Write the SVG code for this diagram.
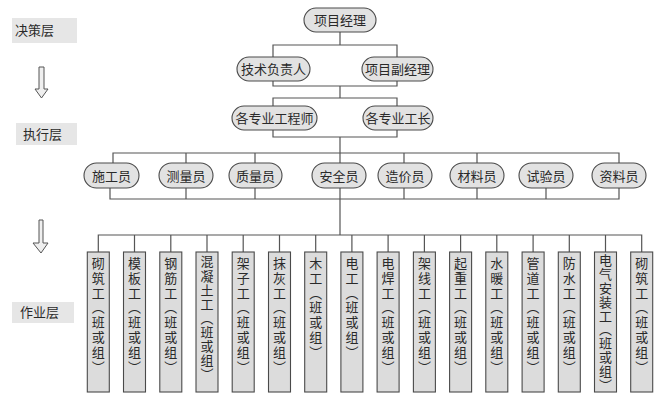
<svg xmlns="http://www.w3.org/2000/svg" width="672" height="409" viewBox="0 0 672 409">
<style>
text{font-family:"Noto Sans CJK SC","Noto Sans",sans-serif;font-size:13px;fill:#2a2a2a}
.pill{fill:#e2e2e2;stroke:#4a4a4a;stroke-width:1.1}
.lvl{fill:#e6e6e6}
.wk{fill:#dcdcdc;stroke:#4a4a4a;stroke-width:1.1}
.c{text-anchor:middle}
.v{writing-mode:vertical-rl;letter-spacing:1.8px}
.vs{writing-mode:vertical-rl;letter-spacing:1.1px}
#connectors path{fill:none;stroke:#555;stroke-width:1.2}
.arr{fill:#efefef;stroke:#555;stroke-width:1}
</style>
<rect width="672" height="409" fill="#fff"/>
<g id="layers">
<g id="layer1"><rect class="lvl" x="12" y="18" width="65" height="25"/><text x="15" y="35">决策层</text></g>
<g id="layer2"><rect class="lvl" x="16" y="123" width="61" height="22"/><text x="23" y="139">执行层</text></g>
<g id="layer3"><rect class="lvl" x="12" y="302" width="62" height="21"/><text x="20" y="317">作业层</text></g>
<path class="arr" d="M39,67 H44 V89 H48 L41.5,98 L35,89 H39 Z"/>
<path class="arr" d="M39,220 H43 V243 H48 L41,253 L33,243 H39 Z"/>
</g>
<g id="connectors">
<path d="M340,32 V45 M273,57 V45 H397 V57"/>
<path d="M273,81 V86 H397 V81 M340,86 V98 M273,106 V98 H397 V106"/>
<path d="M273,130 V137 H397 V130 M340,137 V163"/>
<path d="M113,163 V153 H619 V163 M186,153 V163 M255,153 V163 M404,153 V163 M477,153 V163"/>
<path d="M110,188 V199 H619 V188 M186,188 V199 M255,188 V199 M404,188 V199 M477,188 V199 M546,188 V199 M340,188 V235"/>
<path d="M98.3,252 V235 H641.7 V252 M134.5,235 V252 M170.8,235 V252 M207,235 V252 M243.2,235 V252 M279.5,235 V252 M315.7,235 V252 M351.9,235 V252 M388.1,235 V252 M424.4,235 V252 M460.6,235 V252 M496.8,235 V252 M533.1,235 V252 M569.3,235 V252 M605.5,235 V252"/>
</g>
<g id="n-pm"><rect class="pill" x="304" y="8" width="72" height="24" rx="12"/><text class="c" x="340" y="25">项目经理</text></g>
<g id="n-tech"><rect class="pill" x="237" y="57" width="73" height="24" rx="12"/><text class="c" x="273.5" y="74">技术负责人</text></g>
<g id="n-vpm"><rect class="pill" x="362" y="57" width="71" height="24" rx="12"/><text class="c" x="397.5" y="74">项目副经理</text></g>
<g id="n-eng"><rect class="pill" x="232" y="106" width="85" height="24" rx="12"/><text class="c" x="274.5" y="123">各专业工程师</text></g>
<g id="n-fore"><rect class="pill" x="363" y="106" width="70" height="24" rx="12"/><text class="c" x="398" y="123">各专业工长</text></g>
<g id="s1"><rect class="pill" x="84" y="163" width="55" height="25" rx="12.5"/><text class="c" x="111.5" y="180.5">施工员</text></g>
<g id="s2"><rect class="pill" x="159" y="163" width="54" height="25" rx="12.5"/><text class="c" x="186" y="180.5">测量员</text></g>
<g id="s3"><rect class="pill" x="229" y="163" width="53" height="25" rx="12.5"/><text class="c" x="255.5" y="180.5">质量员</text></g>
<g id="s4"><rect class="pill" x="312" y="163" width="54" height="25" rx="12.5"/><text class="c" x="339" y="180.5">安全员</text></g>
<g id="s5"><rect class="pill" x="378" y="163" width="54" height="25" rx="12.5"/><text class="c" x="405" y="180.5">造价员</text></g>
<g id="s6"><rect class="pill" x="450" y="163" width="54" height="25" rx="12.5"/><text class="c" x="477" y="180.5">材料员</text></g>
<g id="s7"><rect class="pill" x="519" y="163" width="54" height="25" rx="12.5"/><text class="c" x="546" y="180.5">试验员</text></g>
<g id="s8"><rect class="pill" x="592" y="163" width="54" height="25" rx="12.5"/><text class="c" x="619" y="180.5">资料员</text></g>
<g id="w1"><rect class="wk" x="87.3" y="252" width="22" height="140"/><text class="v" x="98.3" y="256.5">砌筑工（班或组）</text></g>
<g id="w2"><rect class="wk" x="123.5" y="252" width="22" height="140"/><text class="v" x="134.5" y="256.5">模板工（班或组）</text></g>
<g id="w3"><rect class="wk" x="159.8" y="252" width="22" height="140"/><text class="v" x="170.8" y="256.5">钢筋工（班或组）</text></g>
<g id="w4"><rect class="wk" x="196" y="252" width="22" height="140"/><text class="vs" x="207" y="255">混凝土工（班或组）</text></g>
<g id="w5"><rect class="wk" x="232.2" y="252" width="22" height="140"/><text class="v" x="243.2" y="256.5">架子工（班或组）</text></g>
<g id="w6"><rect class="wk" x="268.5" y="252" width="22" height="140"/><text class="v" x="279.5" y="256.5">抹灰工（班或组）</text></g>
<g id="w7"><rect class="wk" x="304.7" y="252" width="22" height="140"/><text class="v" x="315.7" y="256.5">木工（班或组）</text></g>
<g id="w8"><rect class="wk" x="340.9" y="252" width="22" height="140"/><text class="v" x="351.9" y="256.5">电工（班或组）</text></g>
<g id="w9"><rect class="wk" x="377.1" y="252" width="22" height="140"/><text class="v" x="388.1" y="256.5">电焊工（班或组）</text></g>
<g id="w10"><rect class="wk" x="413.4" y="252" width="22" height="140"/><text class="v" x="424.4" y="256.5">架线工（班或组）</text></g>
<g id="w11"><rect class="wk" x="449.6" y="252" width="22" height="140"/><text class="v" x="460.6" y="256.5">起重工（班或组）</text></g>
<g id="w12"><rect class="wk" x="485.8" y="252" width="22" height="140"/><text class="v" x="496.8" y="256.5">水暖工（班或组）</text></g>
<g id="w13"><rect class="wk" x="522.1" y="252" width="22" height="140"/><text class="v" x="533.1" y="256.5">管道工（班或组）</text></g>
<g id="w14"><rect class="wk" x="558.3" y="252" width="22" height="140"/><text class="v" x="569.3" y="256.5">防水工（班或组）</text></g>
<g id="w15"><rect class="wk" x="594.5" y="252" width="22" height="140"/><text class="vs" x="605.5" y="253.5" style="letter-spacing:0.9px">电气安装工（班或组）</text></g>
<g id="w16"><rect class="wk" x="630.7" y="252" width="22" height="140"/><text class="v" x="641.7" y="256.5">砌筑工（班或组）</text></g>
</svg>
